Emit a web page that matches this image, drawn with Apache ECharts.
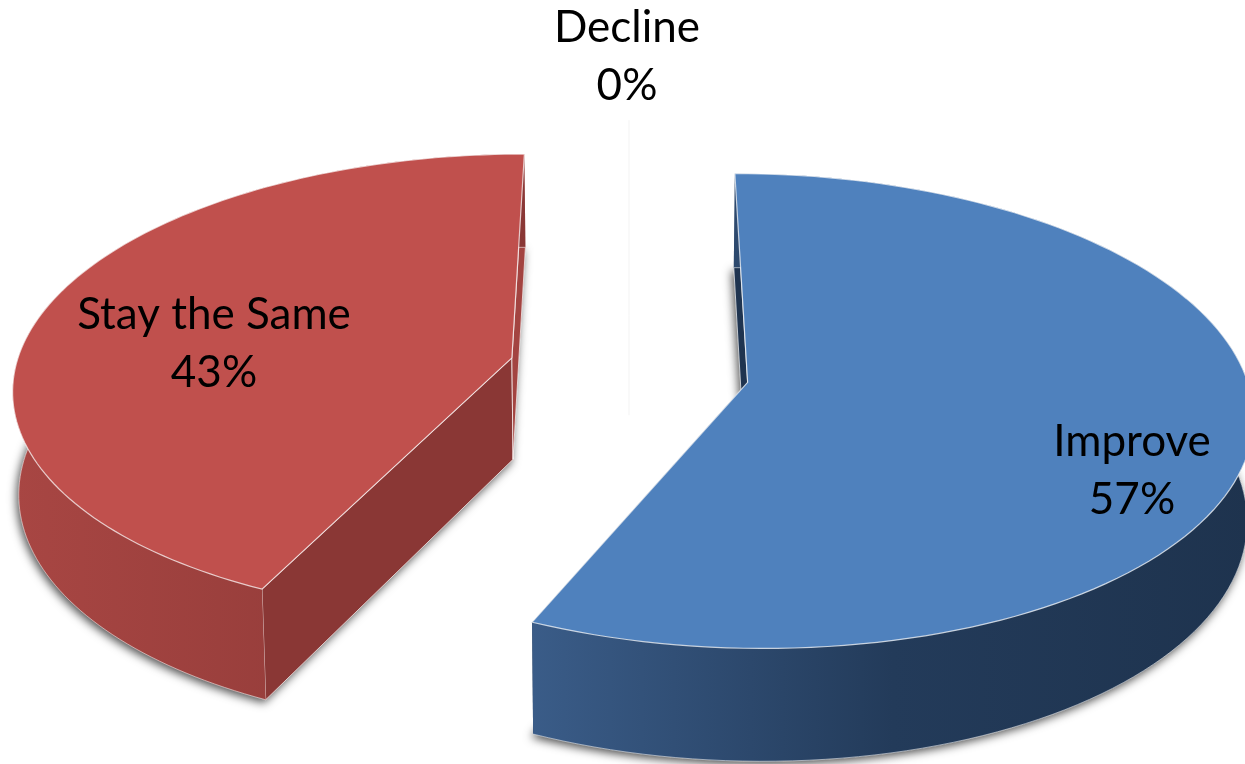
<!DOCTYPE html>
<html>
<head>
<meta charset="utf-8">
<style>html,body{margin:0;padding:0;background:#fff}#chart{width:1245px;height:764px}</style>
<script src="https://cdn.jsdelivr.net/npm/echarts@6/dist/echarts.min.js"></script>
</head>
<body>
<div id="chart"></div>
<script>
const categories = ['Improve', 'Stay the Same', 'Decline'];
const percentValues = [57, 43, 0];
const topColors = ['#4F81BD', '#C0504D', '#A5A5A5'];
const cutColors = ['#1F3450', '#8A3735', '#f3f3f3'];
const sideColors = ['#A34441', '#A34441'];
const wallStops = [
  [[0, '#3A5C88'], [0.5, '#233B5A'], [1, '#1E334E']],
  [[0, '#A84643'], [1, '#8A3735']]
];
const labelAnchors = [[1132, 471], [214, 344], [627, 57]];
const endTrim = [0.018, 0, 0]; // radians taken off each slice's far edge

// Perspective pie geometry
const cx = 629, cy = 370, R = 497, Ry = 231, persp = 0.12, height = 102, taper = 0.01, explode = 0.243;
const total = percentValues.reduce((a, b) => a + b, 0);

function sliceAngles(i) {
  let before = 0;
  for (let j = 0; j < i; j++) before += percentValues[j];
  const a0 = before / total * 2 * Math.PI;
  const a1 = (before + percentValues[i]) / total * 2 * Math.PI;
  return [a0, a1];
}
function project(u, v, depth) {
  const s = 1 / (1 - persp * v);
  return [cx + u * R * s * (1 - taper * depth), cy + v * Ry * s + height * Math.pow(s, 0.75) * depth];
}

function renderItem(params, api) {
  const i = params.dataIndex;
  const angles = sliceAngles(i);
  const a0 = angles[0], a1 = angles[1] - endTrim[i];
  const mid = (angles[0] + angles[1]) / 2;
  const ox = explode * Math.sin(mid), oy = -explode * Math.cos(mid);
  const rim = (t, d) => project(ox + Math.sin(t), oy - Math.cos(t), d);
  const apex = d => project(ox, oy, d);
  const n = 120;
  const arc = d => {
    const pts = [];
    for (let k = 0; k <= n; k++) pts.push(rim(a0 + (a1 - a0) * k / n, d));
    return pts;
  };
  const label = {
    type: 'text', z2: 20, silent: true,
    style: {
      text: categories[i] + '\n' + api.value(0) + '%',
      x: labelAnchors[i][0], y: labelAnchors[i][1],
      align: 'center', verticalAlign: 'middle',
      font: '44px Lato, "Open Sans", sans-serif', lineHeight: 58, fill: '#000'
    }
  };
  if (percentValues[i] === 0) {
    return {
      type: 'group',
      children: [
        { type: 'polyline', z2: 1, shape: { points: [rim(a0, 0), apex(0), apex(1)] },
          style: { stroke: cutColors[i], lineWidth: 1, fill: null } },
        label
      ]
    };
  }
  const topArc = arc(0), baseArc = arc(1);
  const xs = topArc.map(p => p[0]);
  const gx0 = Math.min.apply(null, xs), gx1 = Math.max.apply(null, xs);
  const wallGradient = {
    type: 'linear', x: gx0, y: 0, x2: gx1, y2: 0, global: true,
    colorStops: wallStops[i].map(s => ({ offset: s[0], color: s[1] }))
  };
  const edge = 'rgba(255,255,255,0.72)';
  const children = [
    // soft shadow below the base
    { type: 'polygon', z2: 1, shape: { points: [apex(1)].concat(baseArc) },
      style: { fill: cutColors[i], shadowBlur: 10, shadowColor: 'rgba(0,0,0,0.7)', shadowOffsetX: -2, shadowOffsetY: 3 } },
    // first cut wall (at the start angle)
    { type: 'polygon', z2: 2, shape: { points: [apex(0), rim(a0, 0), rim(a0, 1), apex(1)] },
      style: { fill: cutColors[i], stroke: edge, lineWidth: 1 } },
    // second cut wall (at the end angle)
    { type: 'polygon', z2: 3, shape: { points: [apex(0), rim(a1, 0), rim(a1, 1), apex(1)] },
      style: { fill: i === 1 ? sideColors[i] : cutColors[i], stroke: i === 1 ? edge : null, lineWidth: 1 } },
    // outer curved wall
    { type: 'polygon', z2: 4, shape: { points: topArc.concat(baseArc.slice().reverse()) },
      style: { fill: wallGradient } },
    { type: 'polyline', z2: 5, shape: { points: baseArc },
      style: { stroke: 'rgba(255,255,255,0.55)', lineWidth: 1, fill: null } },
    // top face
    { type: 'polygon', z2: 6, shape: { points: [apex(0)].concat(topArc) },
      style: { fill: topColors[i], stroke: edge, lineWidth: 1.2 } },
    label
  ];
  return { type: 'group', children };
}

const chart = echarts.init(document.getElementById('chart'), null, { renderer: 'canvas' });
chart.setOption({
  animation: false,
  backgroundColor: '#fff',
  series: [{
    type: 'custom',
    coordinateSystem: 'none',
    silent: true,
    clip: false,
    renderItem,
    data: percentValues.map((v, i) => ({ name: categories[i], value: [v] }))
  }]
});
</script>
</body>
</html>
